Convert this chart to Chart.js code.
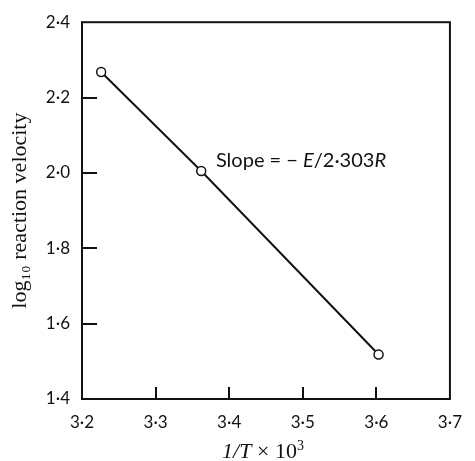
<!DOCTYPE html>
<html>
<head>
<meta charset="utf-8">
<script src="https://cdn.jsdelivr.net/npm/chart.js@4"></script>
<style>
  html, body { margin: 0; padding: 0; background: #fff; }
  #wrap { width: 475px; height: 461px; }
</style>
</head>
<body>
<div id="wrap"><canvas id="miGrafico" width="475" height="461"></canvas></div>
<script>
// datos
const INV_T = [3.226, 3.362, 3.603];
const LOG_VEL = [2.268, 2.005, 1.518];
const X_TICKS = [3.2, 3.3, 3.4, 3.5, 3.6, 3.7];
const Y_TICKS = [1.4, 1.6, 1.8, 2.0, 2.2, 2.4];
const LABEL_POS = { x: 3.382, y: 2.032 };

const TICK_FONT = { family: 'Lato', size: 17 };

function dotted(v) {
    return v.toFixed(1).replace('.', '\u00B7');
}

// marco, ticks hacia dentro, etiqueta de la pendiente y titulo del eje x
const marco = {
    id: 'marco',
    afterDraw(chart) {
        const ctx = chart.ctx;
        const a = chart.chartArea;
        const sx = chart.scales.x, sy = chart.scales.y;
        ctx.save();
        ctx.strokeStyle = '#111';
        ctx.lineWidth = 2;
        ctx.strokeRect(a.left, a.top, a.right - a.left, a.bottom - a.top);
        ctx.beginPath();
        Y_TICKS.slice(1, -1).forEach(v => {
            const py = Math.round(sy.getPixelForValue(v));
            ctx.moveTo(a.left, py);
            ctx.lineTo(a.left + 15, py);
        });
        X_TICKS.slice(1, -1).forEach(v => {
            const px = Math.round(sx.getPixelForValue(v));
            ctx.moveTo(px, a.bottom);
            ctx.lineTo(px, a.bottom - 12);
        });
        ctx.stroke();

        // Slope = -E/2.303R
        ctx.fillStyle = '#111';
        ctx.textBaseline = 'middle';
        ctx.textAlign = 'left';
        let x = sx.getPixelForValue(LABEL_POS.x);
        const y = sy.getPixelForValue(LABEL_POS.y);
        const parts = [
            ['Slope = \u2212 ', '20px Lato'],
            ['E', 'italic 20px Lato'],
            ['/2\u00B7303', '20px Lato'],
            ['R', 'italic 20px Lato']
        ];
        parts.forEach(p => {
            ctx.font = p[1];
            ctx.fillText(p[0], x, y);
            x += ctx.measureText(p[0]).width;
        });

        // titulo eje x: 1/T x 10^3
        ctx.textBaseline = 'alphabetic';
        const tparts = [
            ['1/T', 'italic 22px "Liberation Serif"'],
            [' \u00D7 10', '22px "Liberation Serif"'],
            ['3', '14px "Liberation Serif"']
        ];
        let w = 0;
        tparts.forEach(p => { ctx.font = p[1]; w += ctx.measureText(p[0]).width; });
        let tx = 263 - w / 2;
        const ty = 458;
        tparts.forEach((p, i) => {
            ctx.font = p[1];
            ctx.fillText(p[0], tx, i === 2 ? ty - 8 : ty);
            tx += ctx.measureText(p[0]).width;
        });
        ctx.restore();
    }
};

const GRAFICO = document.getElementById('miGrafico');

let grafica = new Chart(GRAFICO, {
    type: 'scatter',
    data: {
        datasets: [{
            data: INV_T.map((x, i) => ({ x: x, y: LOG_VEL[i] })),
            showLine: true,
            borderColor: '#111',
            borderWidth: 2,
            pointRadius: 4.5,
            pointBorderWidth: 1.5,
            pointBackgroundColor: '#fff',
            pointBorderColor: '#111'
        }]
    },
    options: {
        responsive: false,
        animation: false,
        layout: { padding: { top: 19, right: 13, left: 0, bottom: 0 } },
        plugins: {
            legend: { display: false },
            tooltip: { enabled: false }
        },
        scales: {
            x: {
                type: 'linear',
                min: 3.2,
                max: 3.7,
                afterBuildTicks: s => { s.ticks = X_TICKS.map(v => ({ value: v })); },
                afterFit: s => { s.height = 62; },
                grid: { display: false, drawTicks: false },
                border: { display: false },
                ticks: {
                    color: '#111',
                    font: TICK_FONT,
                    padding: 13,
                    maxRotation: 0,
                    callback: v => dotted(v)
                }
            },
            y: {
                min: 1.4,
                max: 2.4,
                afterBuildTicks: s => { s.ticks = Y_TICKS.map(v => ({ value: v })); },
                afterFit: s => { s.width = 82; },
                grid: { display: false, drawTicks: false },
                border: { display: false },
                title: {
                    display: true,
                    text: 'log\u2081\u2080 reaction velocity',
                    color: '#111',
                    font: { family: 'Liberation Serif', size: 22 },
                    padding: { top: 7, bottom: 0 }
                },
                ticks: {
                    color: '#111',
                    font: TICK_FONT,
                    padding: 12,
                    callback: v => dotted(v)
                }
            }
        }
    },
    plugins: [marco]
});
</script>
</body>
</html>
